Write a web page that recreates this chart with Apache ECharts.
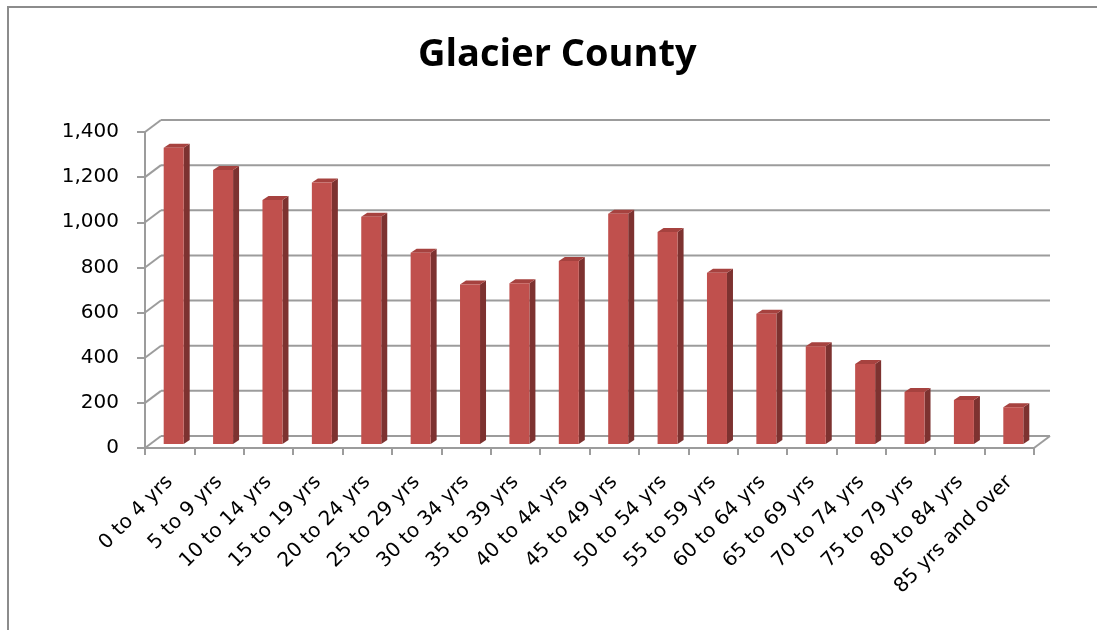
<!DOCTYPE html>
<html>
<head>
<meta charset="utf-8">
<script src="https://cdn.jsdelivr.net/npm/echarts@6/dist/echarts.min.js"></script>
<style>
  html, body { margin: 0; padding: 0; background: #fff; }
  #chart { width: 1097px; height: 630px; }
</style>
</head>
<body>
<div id="chart"></div>
<script>
// Population by age group, Glacier County
const categories = ['0 to 4 yrs', '5 to 9 yrs', '10 to 14 yrs', '15 to 19 yrs', '20 to 24 yrs',
  '25 to 29 yrs', '30 to 34 yrs', '35 to 39 yrs', '40 to 44 yrs', '45 to 49 yrs',
  '50 to 54 yrs', '55 to 59 yrs', '60 to 64 yrs', '65 to 69 yrs', '70 to 74 yrs',
  '75 to 79 yrs', '80 to 84 yrs', '85 yrs and over'];
const population = [1313, 1214, 1081, 1158, 1007, 847, 707, 712, 811, 1020,
  939, 759, 577, 433, 354, 230, 195, 163];
const yTicks = [0, 200, 400, 600, 800, 1000, 1200, 1400];

// Pseudo-3D geometry (pixels)
const WALL_DX = 16, WALL_DY = -12;      // depth of the back wall
const BAR_SHIFT_X = 4, BAR_SHIFT_Y = -4; // bar front face sits a little behind the front plane
const BAR_DX = 6, BAR_DY = -4;          // bar depth
const GRID_COLOR = '#9c9c9c';

const chart = echarts.init(document.getElementById('chart'));

function wallItem(params, api) {
  const v = api.value(1);
  const band = api.size([1, 0])[0];
  const first = api.coord([0, v]);
  const last = api.coord([categories.length - 1, v]);
  const xl = first[0] - band / 2;
  const xr = last[0] + band / 2;
  const y = first[1];
  const style = { stroke: GRID_COLOR, lineWidth: 2, fill: null };
  const children = [
    { type: 'line', shape: { x1: xl + WALL_DX, y1: y + WALL_DY, x2: xr + WALL_DX, y2: y + WALL_DY }, style },
    { type: 'line', shape: { x1: xl, y1: y, x2: xl + WALL_DX, y2: y + WALL_DY }, style }
  ];
  if (v === 0) {
    children.push({ type: 'line', shape: { x1: xr, y1: y, x2: xr + WALL_DX, y2: y + WALL_DY }, style });
  }
  return { type: 'group', children };
}

function barItem(params, api) {
  const idx = api.value(0);
  const top = api.coord([idx, api.value(1)]);
  const base = api.coord([idx, 0]);
  const band = api.size([1, 0])[0];
  const w = band * 0.405;
  const x0 = top[0] + BAR_SHIFT_X - w / 2;
  const x1 = x0 + w;
  const yt = top[1] + BAR_SHIFT_Y;
  const yb = base[1] + BAR_SHIFT_Y;
  return {
    type: 'group',
    children: [
      { type: 'polygon', shape: { points: [[x1, yt], [x1 + BAR_DX, yt + BAR_DY], [x1 + BAR_DX, yb + BAR_DY], [x1, yb]] },
        style: { fill: '#7d3230' } },
      { type: 'polygon', shape: { points: [[x0, yt], [x0 + BAR_DX, yt + BAR_DY], [x1 + BAR_DX, yt + BAR_DY], [x1, yt]] },
        style: { fill: '#a6423f' } },
      { type: 'rect', shape: { x: x0, y: yt, width: w, height: yb - yt },
        style: { fill: '#c0504d' } }
    ]
  };
}

chart.setOption({
  animation: false,
  backgroundColor: '#fff',
  graphic: [
    { type: 'polyline', shape: { points: [[8, 630], [8, 7], [1097, 7]] },
      style: { stroke: '#8c8c8c', lineWidth: 2, fill: null } }
  ],
  title: {
    text: 'Glacier County',
    left: 413,
    top: 31,
    textStyle: { fontFamily: 'Open Sans', fontWeight: 'bold', fontSize: 38, color: '#000' }
  },
  grid: { left: 145, right: 63, top: 132, bottom: 182, containLabel: false },
  xAxis: {
    type: 'category',
    data: categories,
    boundaryGap: true,
    axisLine: { lineStyle: { color: GRID_COLOR, width: 2 } },
    axisTick: { show: true, length: 7, alignWithLabel: false, lineStyle: { color: GRID_COLOR, width: 2 } },
    axisLabel: {
      interval: 0,
      rotate: 45,
      margin: 31,
      fontFamily: 'DejaVu Sans',
      fontSize: 20,
      color: '#000'
    },
    splitLine: { show: false }
  },
  yAxis: {
    type: 'value',
    min: 0,
    max: 1400,
    interval: 200,
    axisLine: { show: true, lineStyle: { color: GRID_COLOR, width: 2 } },
    axisTick: { show: true, length: 8, lineStyle: { color: GRID_COLOR, width: 2 } },
    axisLabel: {
      margin: 26,
      fontFamily: 'DejaVu Sans',
      fontSize: 20,
      color: '#000',
      formatter: v => v.toLocaleString('en-US')
    },
    splitLine: { show: false }
  },
  series: [
    {
      type: 'custom',
      name: 'walls',
      clip: false,
      silent: true,
      z: 1,
      renderItem: wallItem,
      encode: { x: 0, y: 1 },
      data: yTicks.map(v => [0, v])
    },
    {
      type: 'custom',
      name: 'Population',
      clip: false,
      z: 2,
      renderItem: barItem,
      encode: { x: 0, y: 1 },
      data: population.map((v, i) => [i, v])
    }
  ]
});
</script>
</body>
</html>
